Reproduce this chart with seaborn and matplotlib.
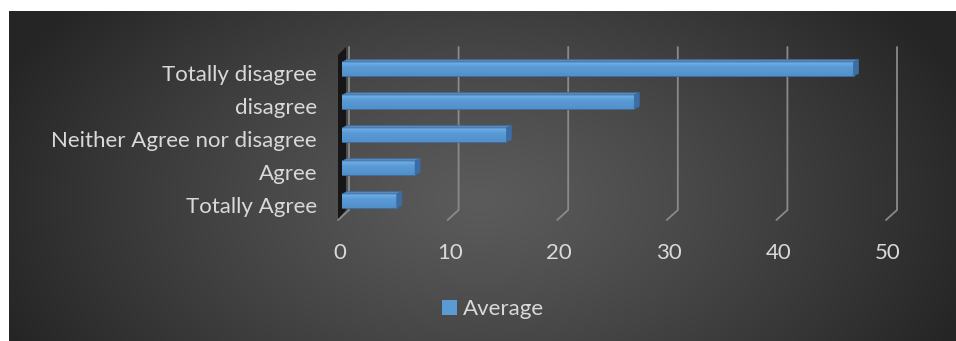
import numpy as np
import pandas as pd
import matplotlib
matplotlib.use("Agg")
import matplotlib.pyplot as plt
import seaborn as sns
from matplotlib.patches import Polygon, Patch
from matplotlib.lines import Line2D
from matplotlib.transforms import ScaledTranslation, IdentityTransform

# ---- data -------------------------------------------------------------
categories = ["Totally disagree", "disagree", "Neither Agree nor disagree",
              "Agree", "Totally Agree"]
average = [46.67, 26.67, 15.0, 6.67, 5.0]
x_ticks = [0, 10, 20, 30, 40, 50]
series_name = "Average"

# ---- style ------------------------------------------------------------
W, H, DPI = 956, 341, 100
FRONT = "#5b9bd5"
TOP = "#5a88bb"
SIDE = "#3b6ea6"
EDGE = "#3d6b9c"
TEXT = "#d9d9d9"
GRID = "#8a8a8a"
FS = 16

sns.set_theme(style="white")
plt.rcParams["font.family"] = ["Lato", "DejaVu Sans"]

fig = plt.figure(figsize=(W / DPI, H / DPI), dpi=DPI, facecolor="white")

# dark chart panel with a soft radial gradient
bg = fig.add_axes([9 / W, 0, 1 - 9 / W, (H - 11) / H], zorder=0)
bg.set_axis_off()
yy, xx = np.mgrid[11:H, 9:W].astype(float)
d = np.sqrt(((xx - 480) / 520) ** 2 + ((yy - 200) / 320) ** 2)
t = np.clip(d, 0, 1) ** 1.2
c_mid, c_edge = 0x5b / 255, 0x25 / 255
shade = c_mid + (c_edge - c_mid) * t
bg.imshow(np.dstack([shade] * 3), extent=(0, 1, 0, 1), origin="upper",
          aspect="auto", interpolation="bilinear")
bg.set_xlim(0, 1)
bg.set_ylim(0, 1)

# plotting area
ax = fig.add_axes([342 / W, 1 - 212 / H, 548 / W, 165 / H], zorder=1)
ax.patch.set_alpha(0)

df = pd.DataFrame({"category": categories, "value": average})
sns.barplot(data=df, x="value", y="category", orient="h", color=FRONT,
            saturation=1, width=14 / 33, ax=ax, edgecolor=EDGE, linewidth=0.6)
bars = list(ax.patches)

ax.set_xlim(0, 50)
ax.set_ylim(143 / 33, -22 / 33)
ax.set_xticks(x_ticks)
ax.set_xlabel("")
ax.set_ylabel("")
for s in ax.spines.values():
    s.set_visible(False)
ax.grid(False)
ax.tick_params(axis="x", length=0, pad=22, labelsize=FS, labelcolor=TEXT)
ax.tick_params(axis="y", length=0, pad=18, labelsize=FS, labelcolor=TEXT)
for lbl in ax.get_xticklabels():
    lbl.set_transform(lbl.get_transform() + ScaledTranslation(-0.02, 0, fig.dpi_scale_trans))
for lbl in ax.get_yticklabels():
    lbl.set_transform(lbl.get_transform() + ScaledTranslation(0, -0.04, fig.dpi_scale_trans))

ident = IdentityTransform()

def px(xp, yp_top):
    # pixel position measured from the top-left corner -> display coords
    return (xp, H - yp_top)

# back-wall gridlines with a short floor segment
for tv in x_ticks:
    xd = ax.transData.transform((tv, 0))[0]
    pts = [px(xd + 7, 47), px(xd + 7, 210), px(xd - 4, 220)]
    ax.add_line(Line2D([p[0] for p in pts], [p[1] for p in pts], color=GRID,
                       lw=1.3, transform=ident, zorder=0.3, clip_on=False,
                       solid_joinstyle="miter"))

# dark side wall next to the category axis
x0d = ax.transData.transform((0, 0))[0]
wall = Polygon([px(x0d - 4, 55), px(x0d + 4, 47), px(x0d + 4, 210), px(x0d - 4, 219)],
               closed=True, facecolor="#161616", edgecolor="none",
               transform=ident, zorder=0.4, clip_on=False)
ax.add_patch(wall)

# give each bar a lit front face, a top face and an end face
grad = np.linspace(0, 1, 64)[:, None, None]
light = np.array([0x70, 0xb2, 0xec]) / 255
base = np.array([0x5b, 0x9b, 0xd5]) / 255
low = np.array([0x52, 0x90, 0xcb]) / 255
cols = np.where(grad < 0.35,
                light + (base - light) * (grad / 0.35),
                base + (low - base) * ((grad - 0.35) / 0.65))
dx, dy = 5, 2.5
for bar in bars:
    bx, by, bw, bh = bar.get_x(), bar.get_y(), bar.get_width(), bar.get_height()
    im = ax.imshow(cols, extent=(bx, bx + bw, by + bh, by), aspect="auto",
                   origin="upper", zorder=bar.get_zorder() + 0.01,
                   interpolation="bilinear")
    im.set_clip_path(bar)
    bb = bar.get_window_extent()
    x0, x1, y0, y1 = bb.x0, bb.x1, bb.y0, bb.y1
    top = Polygon([(x0, y1), (x0 + dx, y1 + dy), (x1 + dx, y1 + dy), (x1, y1)],
                  closed=True, facecolor=TOP, edgecolor=EDGE, lw=0.5,
                  transform=ident, zorder=1.1, clip_on=False)
    side = Polygon([(x1, y0), (x1, y1), (x1 + dx, y1 + dy), (x1 + dx, y0 + dy)],
                   closed=True, facecolor=SIDE, edgecolor=EDGE, lw=0.5,
                   transform=ident, zorder=1.1, clip_on=False)
    ax.add_patch(top)
    ax.add_patch(side)

ax.set_xlim(0, 50)
ax.set_ylim(143 / 33, -22 / 33)

fig.legend(handles=[Patch(facecolor=FRONT, edgecolor="none", label=series_name)],
           loc="center", bbox_to_anchor=(493 / W, 1 - 309 / H), frameon=False,
           fontsize=FS, labelcolor=TEXT, handlelength=0.65, handleheight=0.65,
           handletextpad=0.25)

fig.savefig("out.png", dpi=DPI, facecolor="white")
